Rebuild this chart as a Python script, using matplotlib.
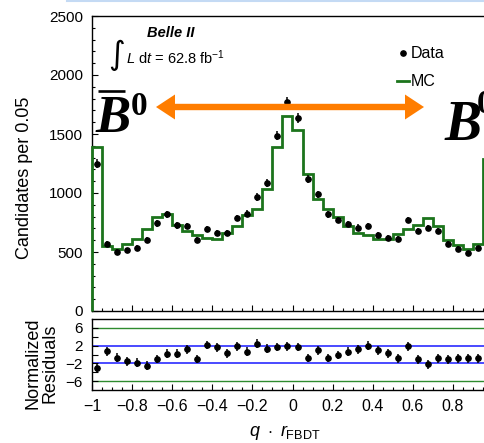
import matplotlib
matplotlib.use('Agg')
import matplotlib.pyplot as plt
import numpy as np
from matplotlib.lines import Line2D
from matplotlib.patches import Polygon
from matplotlib.ticker import MultipleLocator, FixedLocator, FuncFormatter, NullFormatter

plt.rcParams['font.family'] = ['Liberation Sans', 'DejaVu Sans']
plt.rcParams['mathtext.fontset'] = 'custom'
plt.rcParams['mathtext.rm'] = 'Liberation Sans'
plt.rcParams['mathtext.it'] = 'Liberation Sans:italic'
plt.rcParams['mathtext.bf'] = 'Liberation Sans:bold'

# ---------------- data ----------------
bin_low = -1.0
bin_width = 0.05
n_bins = 40

data_counts = [1250, 566, 501, 515, 538, 602, 743, 819, 726, 721,
               602, 698, 664, 664, 788, 825, 966, 1087, 1486, 1774,
               1636, 1115, 988, 819, 771, 735, 707, 721, 642, 622,
               614, 771, 679, 701, 679, 566, 529, 490, 532, 1230]

mc_counts = [1388, 552, 529, 566, 608, 698, 797, 819, 726, 679,
             642, 622, 614, 664, 721, 811, 867, 1030, 1391, 1655,
             1537, 1157, 952, 867, 800, 721, 659, 642, 608, 608,
             650, 698, 726, 791, 721, 602, 557, 524, 566, 1284]

residuals = [-3.0, 0.7, -0.7, -1.5, -1.9, -2.5, -1.0, 0.15, 0.15, 1.2,
             -1.0, 2.15, 1.6, 0.3, 1.9, 0.6, 2.4, 1.3, 1.7, 1.9,
             1.7, -0.8, 1.0, -0.8, -0.1, 0.6, 1.2, 2.0, 1.0, 0.3,
             -0.9, 1.9, -1.1, -2.2, -0.9, -1.1, -0.9, -0.9, -0.9, -0.5]

resid_band_inner = 2
resid_band_outer = 6

GREEN = '#1c741c'
BLUE = '#2b2bff'
ORANGE = '#ff7d00'

# ---------------- figure ----------------
W, H = 485, 443
fig = plt.figure(figsize=(W / 100, H / 100), dpi=100)


def fx(x):
    return x / W


def fy(y):
    return 1 - y / H


edges = bin_low + bin_width * np.arange(n_bins + 1)
centers = edges[:-1] + bin_width / 2
data_arr = np.array(data_counts, dtype=float)

ax = fig.add_axes([fx(92), fy(311), 401 / W, 295 / H])
axr = fig.add_axes([fx(92), fy(390), 401 / W, 71 / H])

# main panel
ax.stairs(mc_counts, edges, baseline=0, color=GREEN, lw=2.0, zorder=3, clip_on=False)
ax.errorbar(centers, data_arr, yerr=np.sqrt(data_arr), fmt='o', color='k',
            ms=3.8, elinewidth=1.1, capsize=0, zorder=4)
ax.set_xlim(-1, 1)
ax.set_ylim(0, 2500)

# residual panel
for v in (resid_band_outer, -resid_band_outer):
    axr.axhline(v, color='#2e8b2e', lw=1.0, zorder=1)
for v in (resid_band_inner, -resid_band_inner):
    axr.axhline(v, color=BLUE, lw=1.2, zorder=1)
axr.errorbar(centers, residuals, yerr=1.0, fmt='o', color='k',
             ms=3.8, elinewidth=1.1, capsize=0, zorder=4)
axr.set_xlim(-1, 1)
axr.set_ylim(-8, 8)


def fmt_num(v, pos=None):
    s = f'{v:g}'
    if abs(v) < 1e-9:
        s = '0'
    return s.replace('-', '\u2212')


def fmt_x(v, pos=None):
    if v > 0.99:
        return ''
    return fmt_num(v)


for a in (ax, axr):
    for sp in a.spines.values():
        sp.set_color('black')
        sp.set_linewidth(1.0)
    a.tick_params(which='both', direction='in', top=False, right=False,
                  labelsize=11, pad=6.5, width=0.8, colors='black')
    a.tick_params(which='major', length=4.5)
    a.tick_params(which='minor', length=2.3)
    a.xaxis.set_major_locator(MultipleLocator(0.2))
    a.xaxis.set_minor_locator(MultipleLocator(0.05))

ax.yaxis.set_major_locator(MultipleLocator(500))
ax.yaxis.set_minor_locator(MultipleLocator(100))
ax.xaxis.set_major_formatter(NullFormatter())

axr.yaxis.set_major_locator(FixedLocator([-6, -2, 2, 6]))
axr.yaxis.set_minor_locator(FixedLocator([-4, 0, 4]))
axr.tick_params(axis='y', which='minor', length=4.5)
axr.tick_params(axis='x', labelsize=11.5)
axr.xaxis.set_major_formatter(FuncFormatter(fmt_x))
axr.yaxis.set_major_formatter(FuncFormatter(fmt_num))

# axis labels
fig.text(fx(25), fy(97), 'Candidates per 0.05', rotation=90, ha='center', va='top', fontsize=13)
fig.text(fx(41.5), fy(363), 'Normalized\nResiduals', rotation=90, ha='center', va='center',
         multialignment='center', fontsize=13, linespacing=1.05)
fig.text(fx(249), fy(436), r'$q\ \cdot\ r_{\mathrm{FBDT}}$', ha='left', va='baseline', fontsize=13)

# Belle II labels
fig.text(fx(147), fy(33), 'Belle II', fontsize=10.5, fontweight='bold', fontstyle='italic',
         ha='left', va='center')
fig.text(fx(116.5), fy(55.5), '\u222b', family='DejaVu Sans', fontsize=23, ha='center', va='center')
fig.text(fx(126), fy(64), r'$L$ d$t$ = 62.8 fb$^{-1}$', fontsize=10.5, ha='left', va='baseline')

# legend
fig.add_artist(Line2D([fx(402.7)], [fy(53.3)], marker='o', color='k', ms=3.8, ls='none'))
fig.text(fx(411), fy(54), 'Data', fontsize=11.5, ha='left', va='center')
fig.add_artist(Line2D([fx(397), fx(409)], [fy(81), fy(81)], color=GREEN, lw=2.0))
fig.text(fx(411), fy(81.7), 'MC', fontsize=11.5, ha='left', va='center')

# B labels
serif = ['Liberation Serif', 'DejaVu Serif']
fig.text(fx(95), fy(132), 'B', family=serif, fontweight='bold', fontstyle='italic',
         fontsize=38, ha='left', va='baseline')
fig.text(fx(131), fy(115), '0', family=serif, fontweight='bold', fontsize=24,
         ha='left', va='baseline')
fig.add_artist(Line2D([fx(98), fx(125)], [fy(90.7), fy(90.7)], color='k', lw=1.9,
                      solid_capstyle='butt'))
fig.text(fx(445), fy(140), 'B', family=serif, fontweight='bold', fontstyle='italic',
         fontsize=40, ha='left', va='baseline')
fig.text(fx(477), fy(113), '0', family=serif, fontweight='bold', fontsize=24,
         ha='left', va='baseline')

# double arrow
xl, xr, yc = 156, 424, 107
hl, hh, sh = 19, 12.5, 3.2
arrow_px = [(xl, yc), (xl + hl, yc - hh), (xl + hl, yc - sh), (xr - hl, yc - sh),
            (xr - hl, yc - hh), (xr, yc), (xr - hl, yc + hh), (xr - hl, yc + sh),
            (xl + hl, yc + sh), (xl + hl, yc + hh)]
fig.add_artist(Polygon([(fx(x), fy(y)) for x, y in arrow_px], closed=True,
                       facecolor=ORANGE, edgecolor='none', transform=fig.transFigure, zorder=10))

# faint line at the top edge
fig.add_artist(Line2D([fx(67), 1], [fy(0.8), fy(0.8)], color='#c4daf4', lw=1.5))

fig.savefig('out.png', dpi=100)
